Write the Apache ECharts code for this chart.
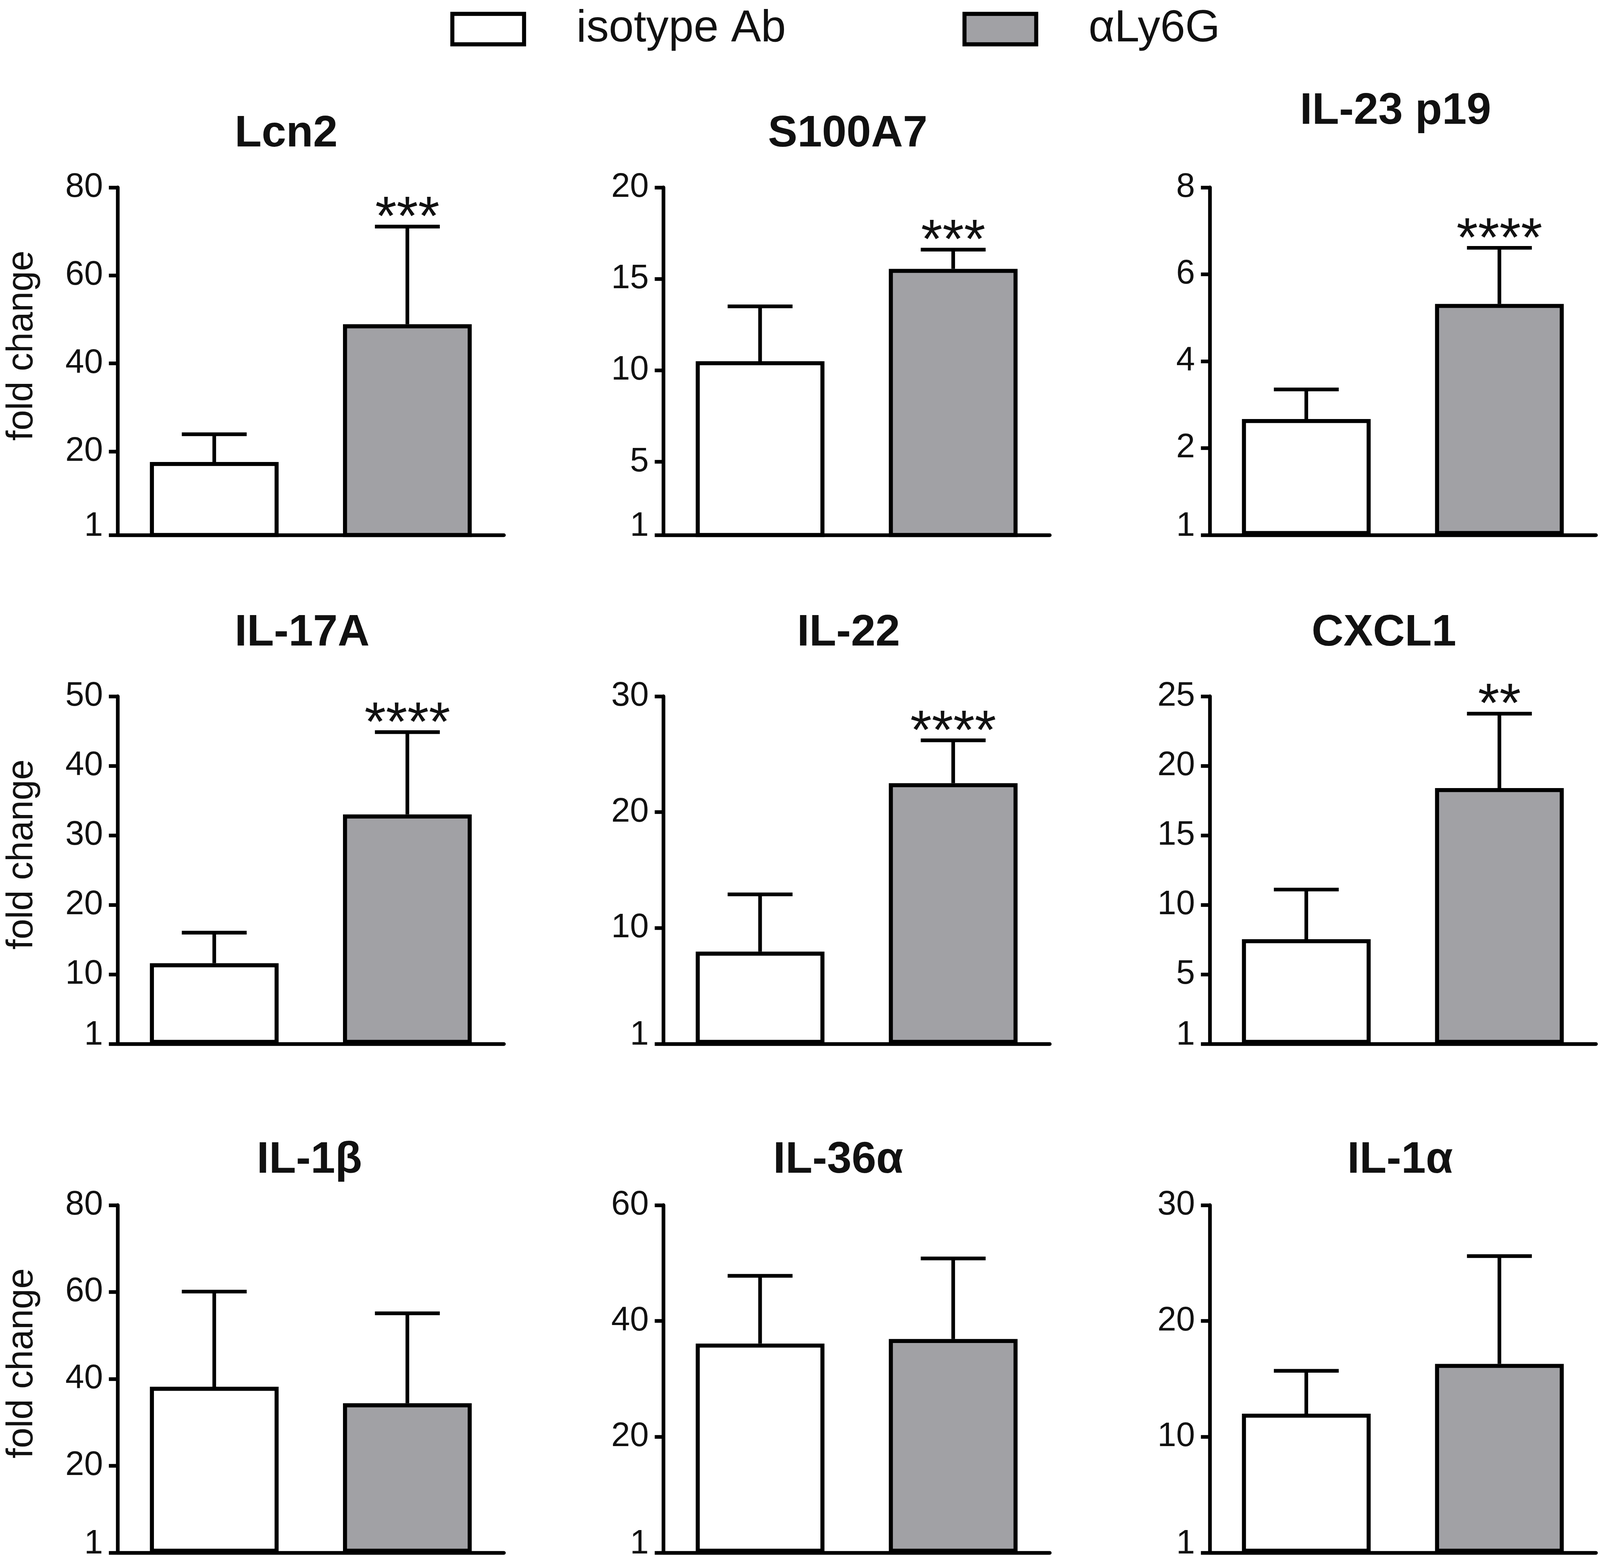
<!DOCTYPE html>
<html><head><meta charset="utf-8">
<script src="https://cdn.jsdelivr.net/npm/echarts@6/dist/echarts.min.js"></script>
<style>html,body{margin:0;padding:0;background:#fff;overflow:hidden}#c{width:100vw;height:100vh}</style>
</head><body><div id="c"></div>
<script>
// ---- data ----
const panelTitles = ['Lcn2', 'S100A7', 'IL-23 p19', 'IL-17A', 'IL-22', 'CXCL1', 'IL-1β', 'IL-36α', 'IL-1α'];
const groups = ['isotype Ab', 'αLy6G'];
const isotypeMean  = [17.6, 10.5, 2.67, 11.6, 7.96, 7.53, 38.2, 36.1, 12.0];
const isotypeUpper = [23.9, 13.5, 3.35, 16.0, 12.9, 11.1, 60.1, 47.8, 15.7];
const ly6gMean     = [48.9, 15.55, 5.32, 33.0, 22.5, 18.4, 34.4, 36.9, 16.3];
const ly6gUpper    = [71.1, 16.6, 6.61, 44.85, 26.2, 23.75, 55.1, 50.8, 25.6];
const significance = ['***', '***', '****', '****', '****', '**', '', '', ''];
const yMin = [1, 1, 0, 0, 0, 0, 0, 0, 0];
const yMax = [80, 20, 8, 50, 30, 25, 80, 60, 30];
const yTickValues = [
  [1, 20, 40, 60, 80], [1, 5, 10, 15, 20], [0, 2, 4, 6, 8],
  [0, 10, 20, 30, 40, 50], [0, 10, 20, 30], [0, 5, 10, 15, 20, 25],
  [0, 20, 40, 60, 80], [0, 20, 40, 60], [0, 10, 20, 30]
];
const yTickLabels = [
  ['1', '20', '40', '60', '80'], ['1', '5', '10', '15', '20'], ['1', '2', '4', '6', '8'],
  ['1', '10', '20', '30', '40', '50'], ['1', '10', '20', '30'], ['1', '5', '10', '15', '20', '25'],
  ['1', '20', '40', '60', '80'], ['1', '20', '40', '60'], ['1', '10', '20', '30']
];
const yAxisName = 'fold change';

// ---- layout (designed for 4350 x 3987, scaled to the actual viewport) ----
const el = document.getElementById('c');
const W = el.clientWidth || window.innerWidth, H = el.clientHeight || window.innerHeight;
const SX = W / 4350, SY = H / 3987;
const SF = Math.min(SX, SY * 1.05);
const px = v => v * SX;     // horizontal lengths
const py = v => v * SY;     // vertical lengths
const pf = v => v * SF;     // font sizes and stroke widths
const FONT = '"Liberation Sans", Arial, sans-serif';
const colLeft = [320, 1804, 3289];
const rowTop = [480, 1783, 3086];
const gridW = 1050, gridH = 890;
const titleLeft = [638, 2088, 3534, 638, 2167, 3566, 698, 2102, 3663];
const titleTop = [287, 287, 229, 1565, 1565, 1565, 2915, 2915, 2915];

const grids = [], xAxes = [], yAxes = [], series = [], titles = [];
for (let i = 0; i < 9; i++) {
  const r = Math.floor(i / 3), c = i % 3;
  grids.push({ left: px(colLeft[c]), top: py(rowTop[r]), width: px(gridW), height: py(gridH), containLabel: false, outerBoundsMode: 'none' });
  titles.push({
    text: panelTitles[i], left: px(titleLeft[i]), top: py(titleTop[i]), padding: 0,
    textStyle: { fontFamily: FONT, fontWeight: 'bold', fontSize: pf(120), color: '#111' }
  });
  xAxes.push({
    gridIndex: i, type: 'category', data: groups, boundaryGap: true,
    axisLine: { lineStyle: { color: '#000', width: pf(10) } },
    axisTick: { show: false }, axisLabel: { show: false }, splitLine: { show: false }
  });
  yAxes.push({
    gridIndex: i, type: 'value', min: yMin[i], max: yMax[i],
    splitLine: { show: false },
    axisLine: { show: true, lineStyle: { color: '#000', width: pf(10) } },
    axisTick: { show: true, length: px(24), customValues: yTickValues[i], lineStyle: { color: '#000', width: pf(10) } },
    axisLabel: {
      customValues: yTickValues[i], margin: px(40), fontSize: pf(92), fontFamily: FONT, color: '#111',
      formatter: function (v) {
        const k = yTickValues[i].indexOf(v);
        const t = k >= 0 ? yTickLabels[i][k] : '';
        return v === yMin[i] ? '{low|' + t + '}' : t;
      },
      rich: { low: { fontSize: pf(92), fontFamily: FONT, color: '#111', padding: [0, 0, py(44), 0] } }
    },
    name: c === 0 ? yAxisName : '', nameLocation: 'middle', nameGap: px(210),
    nameTextStyle: { fontSize: pf(100), fontFamily: FONT, color: '#111', padding: [0, 0, 0, py(80)] }
  });
  series.push({
    type: 'bar', name: groups[0], xAxisIndex: i, yAxisIndex: i,
    data: [isotypeMean[i], '-'], barWidth: px(350), barGap: '-100%',
    itemStyle: { color: '#ffffff', borderColor: '#000', borderWidth: pf(11) }, silent: true
  });
  series.push({
    type: 'bar', name: groups[1], xAxisIndex: i, yAxisIndex: i,
    data: ['-', ly6gMean[i]], barWidth: px(350), barGap: '-100%',
    itemStyle: { color: '#a1a1a5', borderColor: '#000', borderWidth: pf(11) }, silent: true
  });
  series.push({
    type: 'custom', xAxisIndex: i, yAxisIndex: i, z: 5, silent: true, clip: false,
    data: [[0, isotypeMean[i], isotypeUpper[i]], [1, ly6gMean[i], ly6gUpper[i]]],
    encode: { x: 0, y: [1, 2] },
    renderItem: function (params, api) {
      const x = api.value(0);
      const p0 = api.coord([x, api.value(1)]);
      const p1 = api.coord([x, api.value(2)]);
      const half = api.size([1, 0])[0] * 0.168;
      const st = { stroke: '#000', lineWidth: pf(10) };
      const children = [
        { type: 'line', shape: { x1: p0[0], y1: p0[1], x2: p1[0], y2: p1[1] }, style: st },
        { type: 'line', shape: { x1: p1[0] - half, y1: p1[1], x2: p1[0] + half, y2: p1[1] }, style: st }
      ];
      const s = params.dataIndex === 1 ? significance[i] : '';
      if (s) {
        children.push({
          type: 'text', x: p1[0], y: p1[1] - py(18),
          style: { text: s, fontSize: pf(150), fontFamily: FONT, fill: '#111', align: 'center', verticalAlign: 'middle' }
        });
      }
      return { type: 'group', children: children };
    }
  });
}

const chart = echarts.init(el, null, { renderer: 'canvas' });
chart.setOption({
  animation: false,
  backgroundColor: '#ffffff',
  title: titles,
  legend: {
    data: groups, left: px(1219), top: py(12), itemWidth: px(195), itemHeight: py(78), itemGap: px(480),
    icon: 'rect', selectedMode: false,
    itemStyle: { borderColor: '#000', borderWidth: pf(11) },
    textStyle: { fontSize: pf(122), fontFamily: FONT, color: '#111', padding: [0, 0, 0, px(137)] }
  },
  grid: grids, xAxis: xAxes, yAxis: yAxes, series: series
});
</script></body></html>
